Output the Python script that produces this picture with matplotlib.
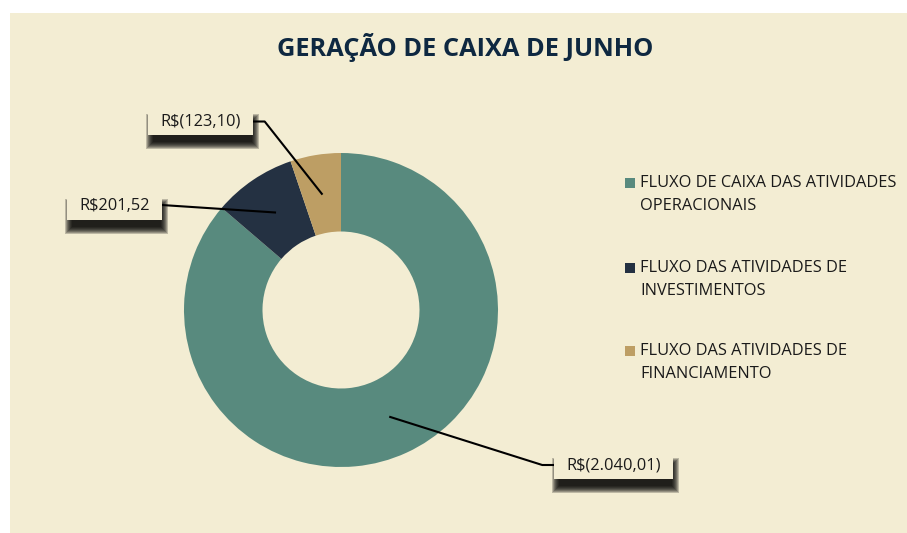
import numpy as np
import matplotlib.pyplot as plt
import matplotlib.patches as mpatches

plt.rcParams['font.family'] = ['Open Sans', 'DejaVu Sans']

# dados
categorias = ["FLUXO DE CAIXA DAS ATIVIDADES\nOPERACIONAIS",
              "FLUXO DAS ATIVIDADES DE\nINVESTIMENTOS",
              "FLUXO DAS ATIVIDADES DE\nFINANCIAMENTO"]
valores = [-2040.01, 201.52, -123.10]
rotulos = ["R$(2.040,01)", "R$201,52", "R$(123,10)"]
cores = ["#588A7E", "#243142", "#BD9E64"]

fundo = "#F3EDD3"
W, H = 907, 533

fig = plt.figure(figsize=(W / 100, H / 100), dpi=100)
fig.patch.set_facecolor("white")
ax = fig.add_axes([0, 0, 1, 1])

# area do grafico
ax.add_patch(mpatches.Rectangle((10, 0), W - 10, H - 13, facecolor=fundo,
                                edgecolor="none", zorder=0))

ax.text(465, H - 48, "GERAÇÃO DE CAIXA DE JUNHO", ha="center", va="center",
        fontsize=18.3, fontweight="bold", color="#0E2841")

centro = (341, H - 310)
raio = 157
wedges, _ = ax.pie([abs(v) for v in valores], colors=cores, startangle=90,
                   counterclock=False, center=centro, radius=raio,
                   wedgeprops=dict(width=raio * 0.5, edgecolor="none"),
                   frame=True)
ax.set_xlim(0, W)
ax.set_ylim(0, H)
ax.set_aspect("equal")
ax.axis("off")

renderer = fig.canvas.get_renderer()

# caixas dos rotulos: centro (x, y) e lado da linha
caixas = [(613.5, H - 465, "right"), (114.5, H - 206.5, "left"), (200.5, H - 121.5, "left")]
for w, rot, (tx, ty, lado) in zip(wedges, rotulos, caixas):
    ang = np.deg2rad((w.theta1 + w.theta2) / 2)
    px = centro[0] + 0.75 * raio * np.cos(ang)
    py = centro[1] + 0.75 * raio * np.sin(ang)
    t = ax.text(tx, ty, rot, ha="center", va="center", fontsize=11.8,
                color="#1a1a1a", zorder=6)
    tw = t.get_window_extent(renderer).width
    bw, bh = tw + 24, 27
    x0, y0 = tx - bw / 2, ty - bh / 2
    # sombra desfocada
    for k in range(8):
        g = 4 - k
        ax.add_patch(mpatches.Rectangle((x0 + 2 - g, y0 - 10 - g), bw + 2 * g, bh + 2 * g,
                                        facecolor="black", edgecolor="none",
                                        alpha=0.22, zorder=3))
    ax.add_patch(mpatches.Rectangle((x0, y0), bw, bh, facecolor=fundo,
                                    edgecolor="none", zorder=5))
    if lado == "right":
        xs = [px, x0 - 12, x0]
        ys = [py, ty, ty]
    else:
        xe = x0 + bw
        xs = [px, xe + 12, xe]
        ys = [py, ty, ty]
    if rot == "R$201,52":
        xs = [px, x0 + bw]
        ys = [py, ty + 1.5]
    ax.plot(xs, ys, color="black", lw=1.5, zorder=4)

# legenda
leg_y = [H - 183, H - 268, H - 351]
for cat, c, y in zip(categorias, cores, leg_y):
    ax.add_patch(mpatches.Rectangle((625, y - 5), 10, 10, facecolor=c,
                                    edgecolor="none"))
    ax.text(640, y + 8, cat, ha="left", va="top", fontsize=11.8,
            color="#1a1a1a", linespacing=1.58)

fig.savefig("out.png", dpi=100, facecolor=fig.get_facecolor())
